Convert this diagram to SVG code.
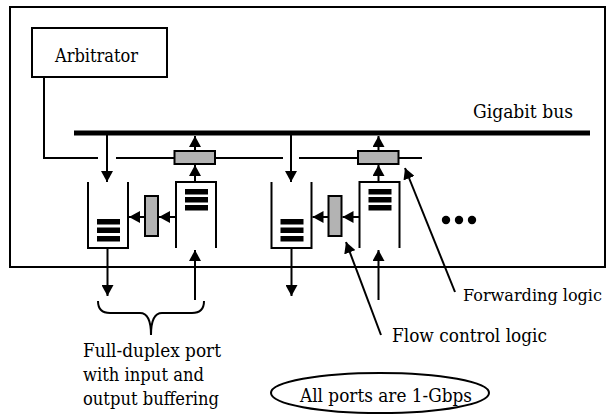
<svg xmlns="http://www.w3.org/2000/svg" width="610" height="414" viewBox="0 0 610 414">
<style>
.t{font-family:'DejaVu Serif','Liberation Serif',serif;font-size:18.5px;fill:#000}
.ln{fill:none;stroke:#000;stroke-width:2}
.bx{fill:#fff;stroke:#000;stroke-width:2}
.g{fill:#b3b3b3;stroke:#000;stroke-width:2}
.bar{fill:#000}
.ar{marker-end:url(#ah)}
</style>
<defs>
<marker id="ah" markerUnits="userSpaceOnUse" markerWidth="12" markerHeight="12" refX="11" refY="6" orient="auto" viewBox="0 0 12 12">
<path d="M0,0 L11,6 L0,12 z" fill="#000"/>
</marker>
</defs>
<g id="frame"><rect x="10" y="7" width="595" height="260" class="bx"/></g>
<g id="arbitrator"><rect x="32" y="28" width="135" height="49" class="bx"/><text class="t" x="55" y="62" textLength="83" lengthAdjust="spacingAndGlyphs">Arbitrator</text></g>
<g id="bus"><line x1="74" y1="133" x2="590" y2="133" stroke="#000" stroke-width="5"/><text class="t" x="473" y="118" textLength="100" lengthAdjust="spacingAndGlyphs">Gigabit bus</text></g>
<g id="connectors">
<path class="ln" d="M44,77 V158 H98"/>
<line class="ln" x1="116" y1="158" x2="283" y2="158"/>
<line class="ln" x1="299" y1="158" x2="422" y2="158"/>
<line class="ln ar" x1="107" y1="135" x2="107" y2="182"/>
<line class="ln ar" x1="107.5" y1="248" x2="107.5" y2="296"/>
<line class="ln ar" x1="195" y1="182" x2="195" y2="165"/>
<line class="ln ar" x1="195" y1="150" x2="195" y2="136"/>
<line class="ln ar" x1="176" y1="217" x2="159" y2="217"/>
<line class="ln ar" x1="145" y1="217" x2="129" y2="217"/>
<line class="ln ar" x1="195" y1="300" x2="195" y2="250"/>
<line class="ln ar" x1="291" y1="135" x2="291" y2="182"/>
<line class="ln ar" x1="291.5" y1="248" x2="291.5" y2="296"/>
<line class="ln ar" x1="378.5" y1="182" x2="378.5" y2="165"/>
<line class="ln ar" x1="378.5" y1="150" x2="378.5" y2="136"/>
<line class="ln ar" x1="359.5" y1="217" x2="342.5" y2="217"/>
<line class="ln ar" x1="328.5" y1="217" x2="312.5" y2="217"/>
<line class="ln ar" x1="378.5" y1="300" x2="378.5" y2="250"/>
<line class="ln ar" x1="455" y1="292" x2="405" y2="168"/>
<line class="ln ar" x1="381" y1="335" x2="346" y2="242"/>
</g>
<g id="port1">
<path class="ln" d="M88,182 V248 H128 V182"/>
<rect class="bar" x="97" y="219" width="23" height="5.5"/>
<rect class="bar" x="97" y="227.5" width="23" height="5.5"/>
<rect class="bar" x="97" y="236" width="23" height="5.5"/>
<path class="ln" d="M176,248 V182 H216 V248"/>
<rect class="bar" x="185" y="189" width="23" height="5.5"/>
<rect class="bar" x="185" y="197" width="23" height="5.5"/>
<rect class="bar" x="185" y="205" width="23" height="5.5"/>
<rect class="g" x="174.5" y="151" width="40.5" height="13"/>
<rect class="g" x="145" y="196" width="13" height="40"/>
</g>
<g id="port2">
<path class="ln" d="M271.5,182 V248 H311.5 V182"/>
<rect class="bar" x="280.5" y="219" width="23" height="5.5"/>
<rect class="bar" x="280.5" y="227.5" width="23" height="5.5"/>
<rect class="bar" x="280.5" y="236" width="23" height="5.5"/>
<path class="ln" d="M359.5,248 V182 H399.5 V248"/>
<rect class="bar" x="368.5" y="189" width="23" height="5.5"/>
<rect class="bar" x="368.5" y="197" width="23" height="5.5"/>
<rect class="bar" x="368.5" y="205" width="23" height="5.5"/>
<rect class="g" x="358" y="151" width="40.5" height="13"/>
<rect class="g" x="328.5" y="196" width="13" height="40"/>
</g>
<g id="more">
<circle cx="446" cy="220" r="4.2"/><circle cx="459" cy="220" r="4.2"/><circle cx="472" cy="220" r="4.2"/>
</g>
<g id="brace"><path class="ln" d="M98,301 Q98,313 110,313 L140,313 Q151,313 151,335 Q151,313 162,313 L192,313 Q204,313 204,301"/></g>
<g id="labels">
<text class="t" x="463" y="301" font-size="16" style="font-size:16px" textLength="139" lengthAdjust="spacingAndGlyphs">Forwarding logic</text>
<text class="t" x="392" y="342" textLength="155" lengthAdjust="spacingAndGlyphs">Flow control logic</text>
<text class="t" x="83" y="357" textLength="138" lengthAdjust="spacingAndGlyphs">Full-duplex port</text>
<text class="t" x="83" y="381" textLength="121" lengthAdjust="spacingAndGlyphs">with input and</text>
<text class="t" x="83" y="405" textLength="136" lengthAdjust="spacingAndGlyphs">output buffering</text>
</g>
<g id="note"><ellipse cx="380" cy="393" rx="109" ry="20" class="ln"/><text class="t" x="300" y="402" textLength="172" lengthAdjust="spacingAndGlyphs">All ports are 1-Gbps</text></g>
</svg>
